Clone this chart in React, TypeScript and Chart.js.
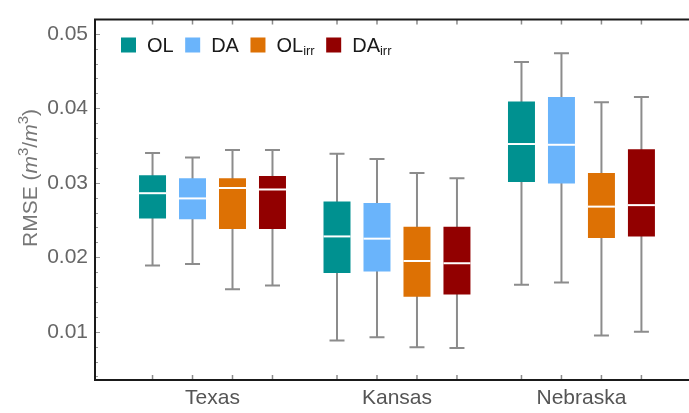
import React, { useEffect, useRef } from 'react';
import { Chart, registerables } from 'chart.js';

Chart.register(...registerables);

const categories = ['Texas', 'Kansas', 'Nebraska'];
const seriesNames = ['OL', 'DA', 'OL', 'DA'];
const seriesSubs = ['', '', 'irr', 'irr'];
const seriesColors = ['#009190', '#6AB4FB', '#DD7104', '#920000'];

// OL
const olMin = [0.0189, 0.00884, 0.0163];
const olQ1 = [0.0252, 0.0179, 0.0301];
const olMed = [0.0286, 0.0228, 0.0352];
const olQ3 = [0.031, 0.0275, 0.0409];
const olMax = [0.034, 0.0339, 0.0462];
// DA
const daMin = [0.0191, 0.00927, 0.0166];
const daQ1 = [0.0251, 0.0181, 0.0299];
const daMed = [0.0279, 0.0225, 0.0351];
const daQ3 = [0.0306, 0.0273, 0.0415];
const daMax = [0.0334, 0.0332, 0.0474];
// OL irr
const olIrrMin = [0.0157, 0.00793, 0.0095];
const olIrrQ1 = [0.0238, 0.0147, 0.0226];
const olIrrMed = [0.0293, 0.0195, 0.0268];
const olIrrQ3 = [0.0306, 0.0241, 0.0313];
const olIrrMax = [0.0344, 0.0313, 0.0408];
// DA irr
const daIrrMin = [0.0162, 0.00784, 0.01];
const daIrrQ1 = [0.0238, 0.015, 0.0228];
const daIrrMed = [0.0291, 0.0192, 0.027];
const daIrrQ3 = [0.0309, 0.0241, 0.0345];
const daIrrMax = [0.0344, 0.0306, 0.0415];

const yTicks = [0.01, 0.02, 0.03, 0.04, 0.05];
const yMinorStep = 0.002;
const yMin = 0.00353;
const yMax = 0.0519;

const series = [
  { min: olMin, q1: olQ1, med: olMed, q3: olQ3, max: olMax },
  { min: daMin, q1: daQ1, med: daMed, q3: daQ3, max: daMax },
  { min: olIrrMin, q1: olIrrQ1, med: olIrrMed, q3: olIrrQ3, max: olIrrMax },
  { min: daIrrMin, q1: daIrrQ1, med: daIrrMed, q3: daIrrQ3, max: daIrrMax },
];

const FONT = '"Liberation Sans", Arial, Helvetica, sans-serif';

const boxPlugin = {
  id: 'boxPlugin',
  beforeDatasetsDraw(chart: any) {
    const ctx = chart.ctx;
    const y = chart.scales.y;
    ctx.save();
    ctx.strokeStyle = '#8c8c8c';
    ctx.lineWidth = 2;
    chart.data.datasets.forEach((ds: any, di: number) => {
      const meta = chart.getDatasetMeta(di);
      meta.data.forEach((el: any, i: number) => {
        const s = ds.stats;
        const yLo = y.getPixelForValue(s.min[i]);
        const yHi = y.getPixelForValue(s.max[i]);
        const cap = 7.5;
        ctx.beginPath();
        ctx.moveTo(el.x, yLo);
        ctx.lineTo(el.x, yHi);
        ctx.moveTo(el.x - cap, yLo);
        ctx.lineTo(el.x + cap, yLo);
        ctx.moveTo(el.x - cap, yHi);
        ctx.lineTo(el.x + cap, yHi);
        ctx.stroke();
      });
    });
    ctx.restore();
  },
  afterDatasetsDraw(chart: any) {
    const ctx = chart.ctx;
    const y = chart.scales.y;
    ctx.save();
    ctx.strokeStyle = '#ffffff';
    ctx.lineWidth = 2;
    chart.data.datasets.forEach((ds: any, di: number) => {
      const meta = chart.getDatasetMeta(di);
      meta.data.forEach((el: any, i: number) => {
        const ym = y.getPixelForValue(ds.stats.med[i]);
        ctx.beginPath();
        ctx.moveTo(el.x - el.width / 2, ym);
        ctx.lineTo(el.x + el.width / 2, ym);
        ctx.stroke();
      });
    });
    ctx.restore();
  },
  afterDraw(chart: any) {
    const ctx = chart.ctx;
    const { left, top, bottom } = chart.chartArea;
    const W = chart.width;
    const y = chart.scales.y;
    ctx.save();
    // minor / major ticks on y
    ctx.strokeStyle = '#9a9a9a';
    ctx.lineWidth = 1;
    for (let v = 0.004; v <= yMax + 1e-9; v += yMinorStep) {
      const py = Math.round(y.getPixelForValue(v)) + 0.5;
      const major = Math.abs(v * 100 - Math.round(v * 100)) < 1e-6;
      ctx.beginPath();
      ctx.moveTo(left, py);
      ctx.lineTo(left + (major ? 5 : 3), py);
      ctx.stroke();
    }
    // x ticks at box centres, bottom and top
    ctx.strokeStyle = '#8c8c8c';
    ctx.lineWidth = 1.5;
    chart.data.datasets.forEach((ds: any, di: number) => {
      chart.getDatasetMeta(di).data.forEach((el: any) => {
        ctx.beginPath();
        ctx.moveTo(el.x, bottom);
        ctx.lineTo(el.x, bottom - 5);
        ctx.moveTo(el.x, top);
        ctx.lineTo(el.x, top + 5);
        ctx.stroke();
      });
    });
    // frame
    ctx.strokeStyle = '#1a1a1a';
    ctx.lineWidth = 2;
    ctx.beginPath();
    ctx.moveTo(W, top);
    ctx.lineTo(left, top);
    ctx.lineTo(left, bottom);
    ctx.lineTo(W, bottom);
    ctx.stroke();

    // legend
    ctx.textBaseline = 'alphabetic';
    let x = 121;
    const sq = 15;
    const sqTop = 37.5;
    const base = 52;
    seriesNames.forEach((name, i) => {
      ctx.fillStyle = seriesColors[i];
      ctx.fillRect(x, sqTop, sq, sq);
      x += sq + 11;
      ctx.fillStyle = '#1a1a1a';
      ctx.font = `20px ${FONT}`;
      ctx.fillText(name, x, base);
      x += ctx.measureText(name).width;
      if (seriesSubs[i]) {
        ctx.font = `13px ${FONT}`;
        ctx.fillText(seriesSubs[i], x, base + 3);
        x += ctx.measureText(seriesSubs[i]).width;
      }
      x += 11.5;
    });

    // y title
    const parts: [string, string, number][] = [
      ['RMSE (', `21px ${FONT}`, 0],
      ['m', `italic 21px ${FONT}`, 0],
      ['3', `15px ${FONT}`, -9],
      ['/', `21px ${FONT}`, 0],
      ['m', `italic 21px ${FONT}`, 0],
      ['3', `15px ${FONT}`, -9],
      [')', `21px ${FONT}`, 0],
    ];
    let total = 0;
    parts.forEach(([t, f]) => {
      ctx.font = f;
      total += ctx.measureText(t).width;
    });
    ctx.translate(37, 178);
    ctx.rotate(-Math.PI / 2);
    ctx.fillStyle = '#777777';
    let px = -total / 2;
    parts.forEach(([t, f, dy]) => {
      ctx.font = f;
      ctx.fillText(t, px, dy);
      px += ctx.measureText(t).width;
    });
    ctx.restore();
  },
};

export default function App() {
  const ref = useRef<HTMLCanvasElement | null>(null);
  useEffect(() => {
    if (!ref.current) return;
    const chart = new Chart(ref.current, {
      type: 'bar',
      data: {
        datasets: series.map((s, si) => ({
          label: seriesNames[si] + seriesSubs[si],
          data: categories.map((_, i) => ({ x: i, y: [s.q1[i], s.q3[i]] })),
          backgroundColor: seriesColors[si],
          borderWidth: 0,
          stats: s,
        })) as any,
      },
      options: {
        animation: false,
        responsive: false,
        maintainAspectRatio: false,
        layout: { padding: { top: 6, right: 0, left: 0, bottom: 0 } },
        datasets: { bar: { categoryPercentage: 0.867, barPercentage: 0.675 } },
        plugins: { legend: { display: false }, tooltip: { enabled: false } },
        scales: {
          x: {
            type: 'linear',
            offset: false,
            min: -0.637,
            max: 2.583,
            grid: { display: false, drawTicks: false },
            border: { display: false },
            afterBuildTicks: (sc: any) => {
              sc.ticks = categories.map((_, i) => ({ value: i }));
            },
            afterFit: (sc: any) => {
              sc.height = 33;
            },
            ticks: {
              callback: (v: any) => categories[v] ?? '',
              color: '#555555',
              font: { size: 21, family: FONT },
              padding: 6,
              maxRotation: 0,
              autoSkip: false,
            },
          },
          y: {
            type: 'linear',
            min: yMin,
            max: yMax,
            grid: { display: false, drawTicks: false },
            border: { display: false },
            afterBuildTicks: (sc: any) => {
              sc.ticks = yTicks.map((v) => ({ value: v }));
            },
            afterFit: (sc: any) => {
              sc.width = 95;
            },
            ticks: {
              callback: (v: any) => Number(v).toFixed(2),
              color: '#666666',
              font: { size: 21, family: FONT },
              padding: 7,
            },
          },
        },
      } as any,
      plugins: [boxPlugin],
    });
    return () => chart.destroy();
  }, []);
  return (
    <div style={{ position: 'fixed', left: 0, top: 0, width: 689, height: 413, background: '#fff' }}>
      <canvas ref={ref} width={689} height={413} style={{ display: 'block' }} />
    </div>
  );
}
